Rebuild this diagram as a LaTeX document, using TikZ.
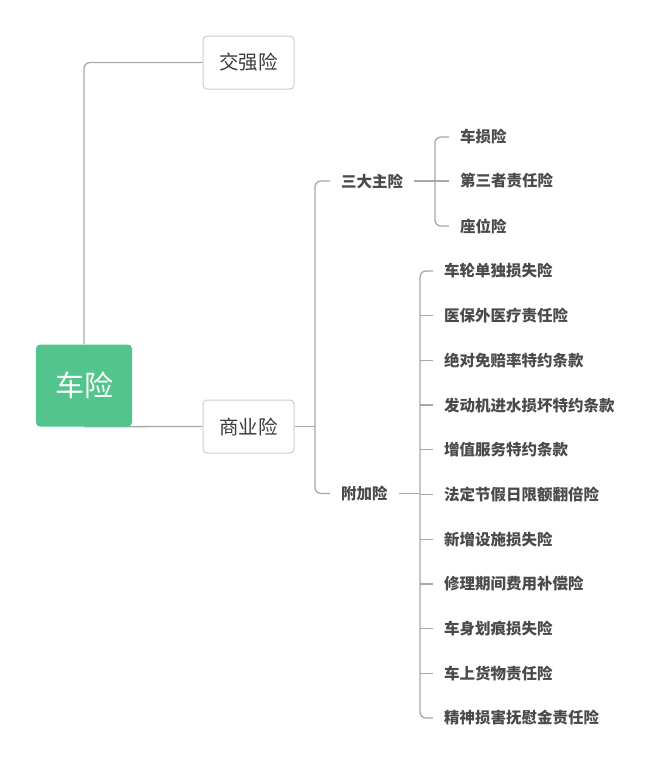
\documentclass[tikz,border=0pt]{standalone}
\usepackage{fontspec}
\setmainfont{Noto Sans CJK SC}
\usetikzlibrary{backgrounds}
\definecolor{rootgreen}{HTML}{52C48C}
\definecolor{linegray}{HTML}{A8A8A8}
\definecolor{boxborder}{HTML}{CCCCCC}
\definecolor{textdark}{HTML}{3A3A3A}
\definecolor{leafdark}{HTML}{4A4A4A}
\begin{document}
\begin{tikzpicture}[x=1pt,y=-1pt,
  rootbox/.style={draw=none, fill=rootgreen, rounded corners=4pt, minimum width=96pt, minimum height=82pt, inner sep=0pt, text=white, font=\fontsize{29}{32}\selectfont},
  subbox/.style={draw=boxborder, line width=1pt, fill=white, rounded corners=4pt, minimum width=91pt, minimum height=53pt, inner sep=0pt, text=textdark, font=\fontsize{19.5}{22}\selectfont},
  lbl/.style={anchor=west, inner xsep=11pt, inner ysep=2pt, text=leafdark, font=\fontsize{15.5}{18}\selectfont\bfseries},
  conn/.style={draw=linegray, line width=1.3pt},
  rc/.style={rounded corners=6pt}
]
\useasboundingbox (0,0) rectangle (666,774);

% main nodes
\node[rootbox] (root) at (84,385.5) {车险};
\node[subbox] (jq) at (248.5,62.5) {交强险};
\node[subbox] (sy) at (248.5,426.5) {商业险};

% second level
\node[lbl] (sd) at (330,181) {三大主险};
\node[lbl] (fj) at (330,493.5) {附加险};

% three main
\node[lbl] (c1) at (449,137) {车损险};
\node[lbl] (c2) at (449,181) {第三者责任险};
\node[lbl] (c3) at (449,226) {座位险};

% additional
\node[lbl] (a1) at (433,271) {车轮单独损失险};
\node[lbl] (a2) at (433,315.7) {医保外医疗责任险};
\node[lbl] (a3) at (433,360.4) {绝对免赔率特约条款};
\node[lbl] (a4) at (433,405.1) {发动机进水损坏特约条款};
\node[lbl] (a5) at (433,449.8) {增值服务特约条款};
\node[lbl] (a6) at (433,494.5) {法定节假日限额翻倍险};
\node[lbl] (a7) at (433,539.2) {新增设施损失险};
\node[lbl] (a8) at (433,583.9) {修理期间费用补偿险};
\node[lbl] (a9) at (433,628.6) {车身划痕损失险};
\node[lbl] (a10) at (433,673.3) {车上货物责任险};
\node[lbl] (a11) at (433,718) {精神损害抚慰金责任险};

\coordinate (b1) at (315,426.5);
\coordinate (b2) at (435,181);
\coordinate (b3) at (420,493.5);

\begin{scope}[on background layer]
\draw[conn, rc] (root.north) |- (jq.west);
\draw[conn] (root.south) -- (sy.west);
\draw[conn] (sy.east) -- (b1);
\draw[conn, rc] (sd.west) -| (b1) |- (fj.west);
\draw[conn] (sd.east) -- (b2);
\draw[conn, rc] (c1.west) -| (b2) |- (c3.west);
\draw[conn] (b2) -- (c2.west);
\draw[conn] (fj.east) -- (b3);
\draw[conn, rc] (a1.west) -| (b3) |- (a11.west);
\foreach \n in {a2,a3,a4,a5,a6,a7,a8,a9,a10}
  \draw[conn] (\n.west -| b3) -- (\n.west);
\end{scope}
\end{tikzpicture}
\end{document}
